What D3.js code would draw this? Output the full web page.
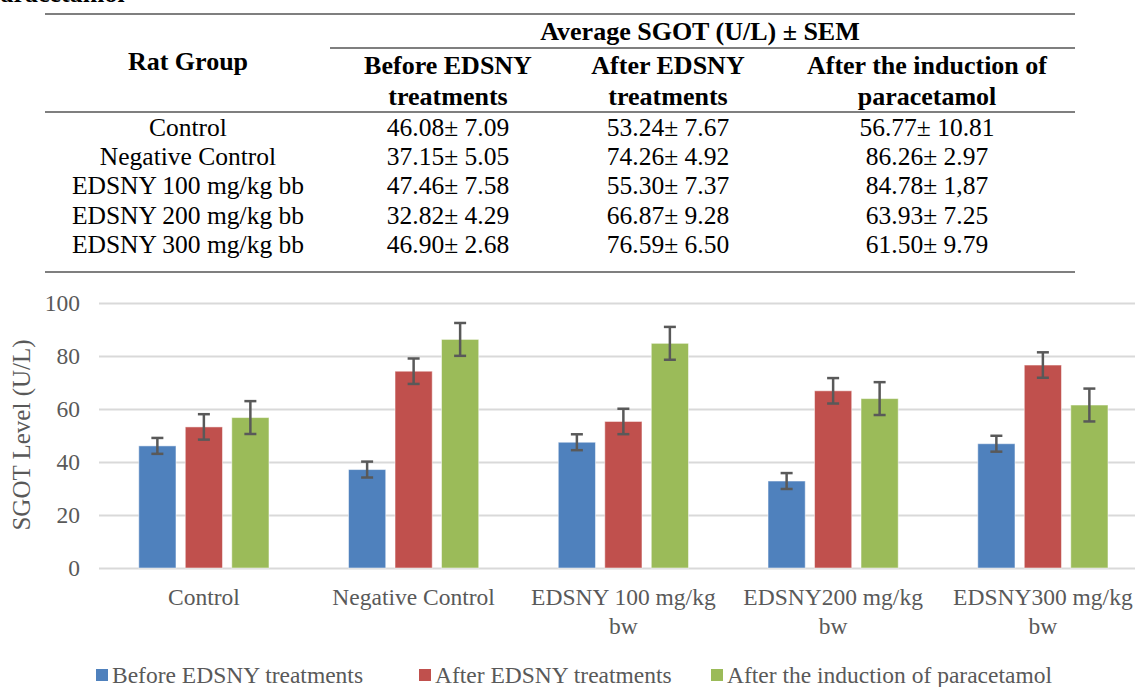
<!doctype html>
<html>
<head>
<meta charset="utf-8">
<style>
  body { margin: 0; background: white; }
  svg { font-family: 'Liberation Serif', 'DejaVu Serif', serif; }
  .rule { stroke: #7f7f7f; stroke-width: 2px; }
  .tbl text { fill: #000; font-size: 25.5px; }
  .tbl .head { font-weight: bold; font-size: 26px; }
  .grid line { stroke: #d9d9d9; stroke-width: 2px; }
  .axis text { fill: #595959; font-size: 23.5px; font-family: 'Liberation Serif', 'DejaVu Serif', serif; }
  .err { stroke: #595959; stroke-width: 2.5px; fill: none; }
</style>
<script src="https://cdn.jsdelivr.net/npm/d3@7"></script>
</head>
<body>
<svg width="1135" height="687"></svg>
<script>
// table
var ratGroups = ["Control", "Negative Control", "EDSNY 100 mg/kg bb", "EDSNY 200 mg/kg bb", "EDSNY 300 mg/kg bb"];
var colBefore = ["46.08\u00b1 7.09", "37.15\u00b1 5.05", "47.46\u00b1 7.58", "32.82\u00b1 4.29", "46.90\u00b1 2.68"];
var colAfter = ["53.24\u00b1 7.67", "74.26\u00b1 4.92", "55.30\u00b1 7.37", "66.87\u00b1 9.28", "76.59\u00b1 6.50"];
var colInduction = ["56.77\u00b1 10.81", "86.26\u00b1 2.97", "84.78\u00b1 1,87", "63.93\u00b1 7.25", "61.50\u00b1 9.79"];
var colHeads = [["Before EDSNY", "treatments"], ["After EDSNY", "treatments"], ["After the induction of", "paracetamol"]];

// chart
var categories = [["Control"], ["Negative Control"], ["EDSNY 100 mg/kg", "bw"], ["EDSNY200 mg/kg", "bw"], ["EDSNY300 mg/kg", "bw"]];
var seriesNames = ["Before EDSNY treatments", "After EDSNY treatments", "After the induction of paracetamol"];
var before = [46.08, 37.15, 47.46, 32.82, 46.90];
var after = [53.24, 74.26, 55.30, 66.87, 76.59];
var induction = [56.77, 86.26, 84.78, 63.93, 61.50];
// error bar half-lengths
var errBefore = [3.0, 3.0, 3.0, 3.0, 3.0];
var errAfter = [4.8, 4.8, 4.8, 4.8, 4.8];
var errInduction = [6.2, 6.2, 6.2, 6.2, 6.2];
var yTicks = [0, 20, 40, 60, 80, 100];
var colors = ["#4f81bd", "#c0504d", "#9bbb59"];

var svg = d3.select("svg");

// caption tail cut off at the top
svg.append("text").attr("x", -14).attr("y", 2).attr("font-size", "26px")
  .attr("font-weight", "bold").text("paracetamol");

// ===== table =====
var tbl = svg.append("g").attr("class", "tbl");
var colX = [188, 448, 668, 927];
var rowY = d3.scalePoint().domain(d3.range(ratGroups.length)).range([127, 244]);

tbl.append("line").attr("class", "rule").attr("x1", 45).attr("x2", 1075).attr("y1", 14).attr("y2", 14);
tbl.append("line").attr("class", "rule").attr("x1", 330).attr("x2", 1075).attr("y1", 48).attr("y2", 48);
tbl.append("line").attr("class", "rule").attr("x1", 45).attr("x2", 1075).attr("y1", 112).attr("y2", 112);
tbl.append("line").attr("class", "rule").attr("x1", 45).attr("x2", 1075).attr("y1", 272).attr("y2", 272);

tbl.append("text").attr("class", "head").attr("x", 700).attr("y", 31)
  .attr("text-anchor", "middle").attr("dy", "0.35em").text("Average SGOT (U/L) \u00b1 SEM");
tbl.append("text").attr("class", "head").attr("x", colX[0]).attr("y", 61)
  .attr("text-anchor", "middle").attr("dy", "0.35em").text("Rat Group");

colHeads.forEach(function (lines, i) {
  lines.forEach(function (s, j) {
    tbl.append("text").attr("class", "head").attr("x", colX[i + 1]).attr("y", 65 + j * 31)
      .attr("text-anchor", "middle").attr("dy", "0.35em").text(s);
  });
});

[ratGroups, colBefore, colAfter, colInduction].forEach(function (col, c) {
  tbl.selectAll(null).data(col).enter().append("text")
    .attr("x", colX[c])
    .attr("y", function (d, i) { return rowY(i); })
    .attr("dy", "0.35em")
    .attr("text-anchor", "middle")
    .text(function (d) { return d; });
});

// ===== bar chart =====
var plotLeft = 99, plotTop = 303, plotBottom = 568;
var x0 = d3.scaleBand().domain(d3.range(categories.length)).range([plotLeft, plotLeft + 5 * 209.75]);
var x1 = d3.scaleBand().domain([0, 1, 2]).range([0, 139.5]).paddingInner(0.2).paddingOuter(0.1);
var groupOff = (x0.bandwidth() - 139.5) / 2;
var y = d3.scaleLinear().domain([0, 100]).range([plotBottom, plotTop]);

svg.append("g").attr("class", "grid axis")
  .attr("transform", "translate(" + plotLeft + ",0)")
  .call(d3.axisLeft(y).tickValues(yTicks).tickSize(-(1135 - plotLeft)).tickPadding(19))
  .attr("font-family", null).attr("font-size", null)
  .call(function (g) { g.select(".domain").remove(); })
  .selectAll("text").attr("fill", "#595959");

svg.append("text").attr("class", "axis")
  .attr("transform", "translate(30,435) rotate(-90)")
  .attr("text-anchor", "middle").attr("fill", "#595959").attr("font-size", "25px")
  .text("SGOT Level (U/L)");

var series = [before, after, induction];
var errs = [errBefore, errAfter, errInduction];

series.forEach(function (vals, s) {
  var g = svg.append("g");
  g.selectAll("rect").data(vals).enter().append("rect")
    .attr("x", function (d, i) { return x0(i) + groupOff + x1(s); })
    .attr("width", x1.bandwidth())
    .attr("y", function (d) { return y(d); })
    .attr("height", function (d) { return y(0) - y(d); })
    .attr("fill", colors[s])
    .attr("stroke", "rgba(255,255,255,0.5)").attr("stroke-width", 1);

  var eg = g.selectAll("g.e").data(vals).enter().append("g").attr("class", "err");
  eg.each(function (d, i) {
    var cx = x0(i) + groupOff + x1(s) + x1.bandwidth() / 2;
    var e = errs[s][i];
    var el = d3.select(this);
    el.append("line").attr("x1", cx).attr("x2", cx).attr("y1", y(d + e)).attr("y2", y(d - e));
    el.append("line").attr("x1", cx - 6).attr("x2", cx + 6).attr("y1", y(d + e)).attr("y2", y(d + e));
    el.append("line").attr("x1", cx - 6).attr("x2", cx + 6).attr("y1", y(d - e)).attr("y2", y(d - e));
  });
});

// category labels
var cat = svg.append("g").attr("class", "axis");
categories.forEach(function (lines, i) {
  lines.forEach(function (s, j) {
    cat.append("text")
      .attr("x", x0(i) + x0.bandwidth() / 2)
      .attr("y", 597 + j * 29)
      .attr("dy", "0.35em")
      .attr("text-anchor", "middle")
      .attr("fill", "#595959")
      .text(s);
  });
});

// legend
var legX = [96, 419, 711];
var leg = svg.append("g").attr("class", "axis");
seriesNames.forEach(function (name, i) {
  leg.append("rect").attr("x", legX[i]).attr("y", 669).attr("width", 12).attr("height", 12).attr("fill", colors[i]);
  leg.append("text").attr("x", legX[i] + 16).attr("y", 675).attr("dy", "0.35em")
    .attr("fill", "#595959").text(name);
});
</script>
</body>
</html>
